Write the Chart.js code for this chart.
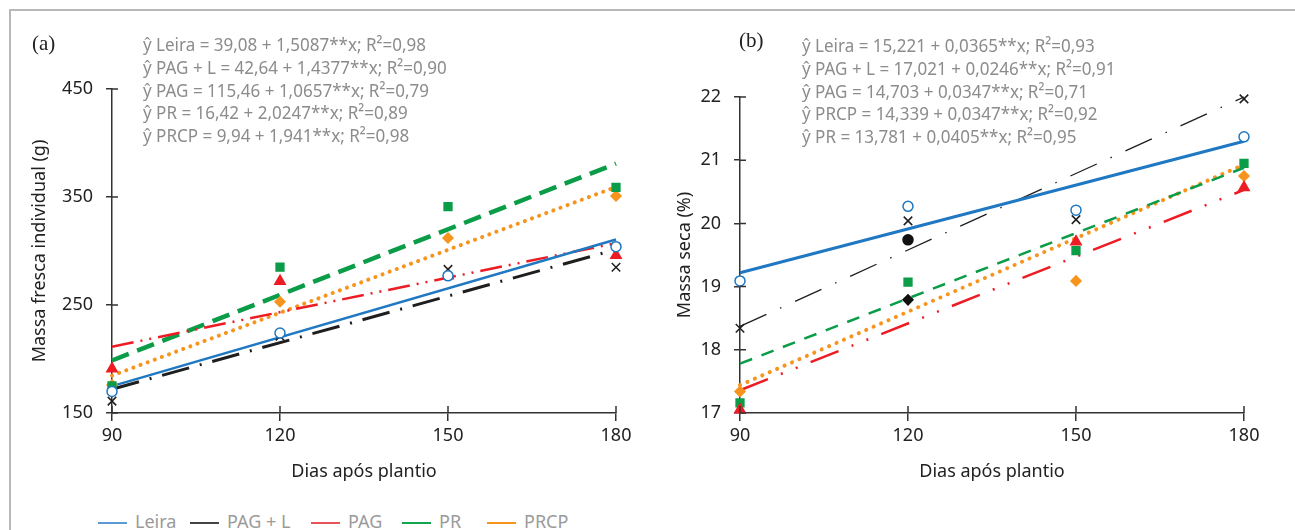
<!DOCTYPE html>
<html lang="pt">
<head>
<meta charset="UTF-8">
<title>Massa fresca e massa seca</title>
<script src="https://cdn.jsdelivr.net/npm/chart.js@4.4.1/dist/chart.umd.min.js"></script>
<style>
  body { margin: 0; background: #fff; }
  #fig { position: relative; width: 1295px; height: 530px; overflow: hidden; font-family: 'Noto Sans', sans-serif; }
  .frame { position: absolute; left: 9px; top: 9px; width: 1300px; height: 540px; border-left: 2px solid #b8b8b8; border-top: 2px solid #b8b8b8; }
  .box { position: absolute; top: 0; height: 500px; }
  #boxA { left: 0; width: 650px; }
  #boxB { left: 650px; width: 645px; }
  .tag { position: absolute; font-family: 'Liberation Serif', serif; font-size: 21px; color: #222; }
  .eqs { position: absolute; font-family: 'Noto Sans', sans-serif; font-size: 18.5px; color: #8c8c8c; line-height: 22.8px; white-space: nowrap; transform: scaleX(0.92); transform-origin: left top; }
  .legend { position: absolute; top: 509px; left: 0; width: 1295px; font-size: 18px; color: #9a9a9a; }
  .legend .item { position: absolute; top: 0; white-space: nowrap; }
  .legend i { display: inline-block; width: 29px; height: 2px; vertical-align: middle; margin-right: 8px; }
</style>
</head>
<body>
<div id="fig">
  <div class="frame"></div>
  <div class="box" id="boxA"><canvas id="chartA"></canvas></div>
  <div class="box" id="boxB"><canvas id="chartB"></canvas></div>

  <div class="tag" style="left:32px; top:31px;">(a)</div>
  <div class="eqs" style="left:143px; top:33px;">
    <div>ŷ Leira = 39,08 + 1,5087**x; R²=0,98</div>
    <div>ŷ PAG + L = 42,64 + 1,4377**x; R²=0,90</div>
    <div>ŷ PAG = 115,46 + 1,0657**x; R²=0,79</div>
    <div>ŷ PR = 16,42 + 2,0247**x; R²=0,89</div>
    <div>ŷ PRCP = 9,94 + 1,941**x; R²=0,98</div>
  </div>

  <div class="tag" style="left:739px; top:28px;">(b)</div>
  <div class="eqs" style="left:802px; top:34px;">
    <div>ŷ Leira = 15,221 + 0,0365**x; R²=0,93</div>
    <div>ŷ PAG + L = 17,021 + 0,0246**x; R²=0,91</div>
    <div>ŷ PAG = 14,703 + 0,0347**x; R²=0,71</div>
    <div>ŷ PRCP = 14,339 + 0,0347**x; R²=0,92</div>
    <div>ŷ PR = 13,781 + 0,0405**x; R²=0,95</div>
  </div>

  <div class="legend" id="legend"></div>
</div>

<script>
// dias após plantio
const days = [90, 120, 150, 180];
const fitDays = [90, 180];
const seriesNames = ['Leira', 'PAG + L', 'PAG', 'PR', 'PRCP'];

// (a) massa fresca individual (g) - pontos observados
const leiraA = [170, 224, 277, 304];
const pagLA = [161, 221, 283, 285];
const pagA = [191, 272, 277, 296];
const prA = [175, 285, 341, 359];
const prcpA = [176, 253, 312, 351];
// (a) retas ajustadas (valores em 90 e 180)
const leiraFitA = [174.9, 310.6];
const pagLFitA = [172.0, 301.4];
const pagFitA = [211.4, 307.3];
const prFitA = [198.6, 380.9];
const prcpFitA = [184.6, 359.3];

// (b) massa seca (%) - pontos observados
const leiraB = [19.09, 20.27, 20.21, 21.37];
const pagLB = [18.34, 20.04, 20.06, 21.97];
const pagB = [17.05, 19.74, 19.71, 20.57];
const prB = [17.16, 19.07, 19.57, 20.95];
const prcpB = [17.34, 18.79, 19.09, 20.75];
// (b) retas ajustadas
const leiraFitB = [19.22, 21.30];
const pagLFitB = [18.37, 22.0];
const pagFitB = [17.36, 20.53];
const prFitB = [17.78, 20.88];
const prcpFitB = [17.44, 20.93];

const colors = {
  leira: '#1f78c1',
  pagL: '#1e1e1e',
  pag: '#ed1c24',
  pr: '#0b9c48',
  prcp: '#f7941d'
};
const legendColors = ['#5b9bd5', '#444444', '#e8545a', '#13a651', '#f7941d'];
const legendLeft = [98, 190, 311, 402, 487];

function toXY(xs, ys) {
  return xs.map((x, i) => ({ x: x, y: ys[i] }));
}

function markers(ys, color, style, opts) {
  return Object.assign({
    data: toXY(days, ys),
    showLine: false,
    pointStyle: style,
    pointRadius: 6,
    pointHoverRadius: 6,
    pointBackgroundColor: color,
    pointBorderColor: color,
    pointBorderWidth: 1.5,
    clip: false,
    order: 1
  }, opts || {});
}

function fitLine(ys, color, width, dash, cap) {
  return {
    data: toXY(fitDays, ys),
    showLine: true,
    borderColor: color,
    borderWidth: width,
    borderDash: dash,
    borderCapStyle: cap || 'butt',
    pointRadius: 0,
    pointHoverRadius: 0,
    fill: false,
    clip: false,
    order: 2
  };
}

// ticks que cruzam o eixo
const crossTicks = {
  id: 'crossTicks',
  afterDraw(chart) {
    const ctx = chart.ctx;
    const area = chart.chartArea;
    const xs = chart.scales.x, ys = chart.scales.y;
    ctx.save();
    ctx.strokeStyle = '#333';
    ctx.lineWidth = 1.5;
    ctx.beginPath();
    ys.ticks.forEach(t => {
      const py = ys.getPixelForValue(t.value);
      ctx.moveTo(area.left, py);
      ctx.lineTo(area.left + 6, py);
    });
    xs.ticks.forEach(t => {
      const px = xs.getPixelForValue(t.value);
      ctx.moveTo(px, area.bottom);
      ctx.lineTo(px, area.bottom - 7);
    });
    ctx.stroke();
    ctx.restore();
  }
};

function makeOptions(yMin, yMax, step, yTitle, pad, yWidth, titlePad) {
  const tickFont = { family: "'Noto Sans', sans-serif", size: 18 };
  return {
    responsive: true,
    maintainAspectRatio: false,
    animation: false,
    layout: { padding: pad },
    plugins: { legend: { display: false }, tooltip: { enabled: false } },
    scales: {
      x: {
        type: 'linear',
        min: 90, max: 180,
        afterBuildTicks: s => { s.ticks = days.map(v => ({ value: v })); },
        afterFit: s => { s.height = 87; },
        ticks: { color: '#222', font: tickFont, padding: 4 },
        grid: { drawOnChartArea: false, tickLength: 8, color: '#333', lineWidth: 1.5 },
        border: { display: true, color: '#333', width: 1.5 },
        title: { display: true, text: 'Dias após plantio', color: '#222', font: tickFont, padding: { top: 0, bottom: 17 } }
      },
      y: {
        min: yMin, max: yMax,
        ticks: { stepSize: step, color: '#222', font: tickFont, padding: 13 },
        afterFit: s => { s.width = yWidth; },
        grid: { drawOnChartArea: false, tickLength: 6, color: '#333', lineWidth: 1.5 },
        border: { display: true, color: '#333', width: 1.5 },
        title: { display: true, text: yTitle, color: '#222', font: tickFont, padding: { top: titlePad, bottom: 0 } }
      }
    }
  };
}

new Chart(document.getElementById('chartA'), {
  type: 'scatter',
  data: {
    datasets: [
      markers(leiraA, colors.leira, 'circle', { pointBackgroundColor: '#fff', pointRadius: 5 }),
      markers(pagLA, colors.pagL, 'crossRot'),
      markers(pagA, colors.pag, 'triangle'),
      markers(prA, colors.pr, 'rect', { pointRadius: 5.5 }),
      markers(prcpA, colors.prcp, 'rectRot', { pointRadius: 5 }),
      fitLine(leiraFitA, colors.leira, 2.5, []),
      fitLine(pagLFitA, colors.pagL, 3, [28, 11, 2, 11]),
      fitLine(pagFitA, colors.pag, 2.5, [22, 7, 2, 7, 2, 7]),
      fitLine(prFitA, colors.pr, 4.5, [18, 9]),
      fitLine(prcpFitA, colors.prcp, 4, [0.1, 7.5], 'round')
    ]
  },
  options: makeOptions(150, 450, 100, 'Massa fresca individual (g)', { top: 89, right: 34, left: 0, bottom: 0 }, 112, 29),
  plugins: [crossTicks]
});

new Chart(document.getElementById('chartB'), {
  type: 'scatter',
  data: {
    datasets: [
      markers(leiraB, colors.leira, 'circle', { pointBackgroundColor: '#fff', pointRadius: 5 }),
      markers(pagLB, colors.pagL, 'crossRot'),
      markers(pagB, [colors.pag, '#111', colors.pag, colors.pag], ['triangle', 'circle', 'triangle', 'triangle'],
        { pointBorderColor: [colors.pag, '#111', colors.pag, colors.pag], pointRadius: [6, 5, 6, 6] }),
      markers(prB, colors.pr, 'rect', { pointRadius: 5.5 }),
      markers(prcpB, [colors.prcp, '#111', colors.prcp, colors.prcp], 'rectRot',
        { pointRadius: 5, pointBorderColor: [colors.prcp, '#111', colors.prcp, colors.prcp] }),
      fitLine(leiraFitB, colors.leira, 3, []),
      fitLine(pagLFitB, colors.pagL, 1.3, [29, 15, 1.5, 15]),
      fitLine(pagFitB, colors.pag, 2.5, [30, 14, 2, 14, 2, 14]),
      fitLine(prFitB, colors.pr, 2.5, [13, 10]),
      fitLine(prcpFitB, colors.prcp, 4, [0.1, 8], 'round')
    ]
  },
  options: makeOptions(17, 22, 1, 'Massa seca (%)', { top: 97, right: 51, left: 0, bottom: 0 }, 90, 24),
  plugins: [crossTicks]
});

// legenda
const legend = document.getElementById('legend');
seriesNames.forEach((name, i) => {
  const item = document.createElement('span');
  item.className = 'item';
  item.style.left = legendLeft[i] + 'px';
  item.innerHTML = '<i style="background:' + legendColors[i] + '"></i>' + name;
  legend.appendChild(item);
});
</script>
</body>
</html>
